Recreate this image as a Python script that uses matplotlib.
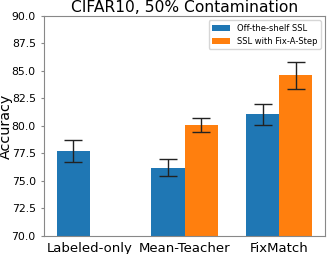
import numpy as np
import matplotlib
matplotlib.use("Agg")
import matplotlib.pyplot as plt

# Datos
metodos = ["Labeled-only", "Mean-Teacher", "FixMatch"]
base_media = [77.75, 76.2, 81.05]
base_err = [0.98, 0.78, 0.95]
fix_media = [np.nan, 80.05, 84.6]
fix_err = [np.nan, 0.64, 1.23]

x = np.arange(len(metodos))
w = 0.35

fig, ax = plt.subplots(figsize=(3.27, 2.54), dpi=100)
ax.bar(x - w / 2, base_media, w, yerr=base_err, capsize=6.5, color="#1f77b4",
       error_kw=dict(elinewidth=1, ecolor="#222222", capthick=1), label="Off-the-shelf SSL")
ax.bar(x + w / 2, fix_media, w, yerr=fix_err, capsize=6.5, color="#ff7f0e",
       error_kw=dict(elinewidth=1, ecolor="#222222", capthick=1), label="SSL with Fix-A-Step")

ax.set_ylim(70, 90)
ax.set_yticks([70.0, 72.5, 75.0, 77.5, 80.0, 82.5, 85.0, 87.5, 90.0])
ax.tick_params(axis="y", labelsize=7.8, length=2.5, color="#888888")
ax.set_xticks(x)
ax.set_xticklabels(metodos, fontsize=9.5)
ax.tick_params(axis="x", length=0, pad=4)
ax.set_ylabel("Accuracy", fontsize=10.3)
ax.yaxis.set_label_coords(-0.112, 0.5)
ax.set_title("CIFAR10, 50% Contamination", fontsize=11.2, pad=3)
for s in ax.spines.values():
    s.set_color("#888888")
ax.legend(fontsize=6, loc="upper right", handlelength=2.2)

fig.subplots_adjust(left=0.135, right=0.994, top=0.937, bottom=0.071)
fig.savefig("out.png")
